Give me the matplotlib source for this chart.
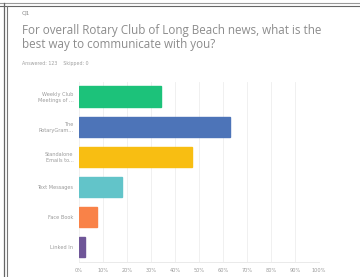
import matplotlib
matplotlib.use("Agg")
import matplotlib.pyplot as plt
from matplotlib.lines import Line2D

categories = ["Weekly Club\nMeetings of ...", "The\nRotaryGram...", "Standalone\nEmails to...",
              "Text Messages", "Face Book", "Linked In"]
values = [34, 63, 47, 18, 7.5, 2.5]
colors = ["#1CC27A", "#4D74B8", "#F8BE12", "#62C4C9", "#F98248", "#6F5698"]
xticks = [0, 10, 20, 30, 40, 50, 60, 70, 80, 90, 100]
xtick_labels = ["0%", "10%", "20%", "30%", "40%", "50%", "60%", "70%", "80%", "90%", "100%"]

fig = plt.figure(figsize=(3.6, 2.77), dpi=100)
fig.patch.set_facecolor("white")

W, H = 360, 277
ax = fig.add_axes([79 / W, 1 - 262 / H, (319 - 79) / W, (262 - 81.5) / H])
y = list(range(len(categories)))
ax.barh(y, values, height=0.67, color=colors, edgecolor=colors, zorder=3)
ax.set_ylim(len(categories) - 0.5, -0.5)
ax.set_xlim(0, 100)
ax.set_xticks(xticks)
ax.set_xticklabels(xtick_labels, fontsize=3.6, color="#9a9a9a")
ax.set_yticks(y)
ax.set_yticklabels(categories, fontsize=3.6, color="#9a9a9a", linespacing=1.3)
ax.tick_params(length=0, pad=4)
ax.grid(axis="x", color="#eeeeee", linewidth=0.6, zorder=0)
for s in ["top", "right", "left"]:
    ax.spines[s].set_visible(False)
ax.spines["bottom"].set_color("#e6e6e6")
ax.spines["bottom"].set_linewidth(0.6)

fig.text(22 / W, 1 - 13 / H, "Q1", fontsize=4.2, color="#8a8a8a", va="center", ha="left")
fig.text(22 / W, 1 - 37.5 / H,
         "For overall Rotary Club of Long Beach news, what is the\nbest way to communicate with you?",
         fontsize=8.4, color="#8c8c8c", va="center", ha="left", family="Open Sans", linespacing=1.1)
fig.text(22 / W, 1 - 63 / H, "Answered: 123    Skipped: 0", fontsize=3.4, color="#a0a0a0",
         va="center", ha="left")

# frame lines
fig.add_artist(Line2D([0, 1], [1 - 3 / H, 1 - 3 / H], color="#9a9a9a", linewidth=0.8))
fig.add_artist(Line2D([0, 1], [1 - 5.5 / H, 1 - 5.5 / H], color="#666666", linewidth=0.8))
fig.add_artist(Line2D([4 / W, 4 / W], [0, 1 - 3 / H], color="#666666", linewidth=0.9))
fig.add_artist(Line2D([7 / W, 7 / W], [0, 1 - 5.5 / H], color="#777777", linewidth=0.8))

fig.savefig("out.png", dpi=100, facecolor="white")
